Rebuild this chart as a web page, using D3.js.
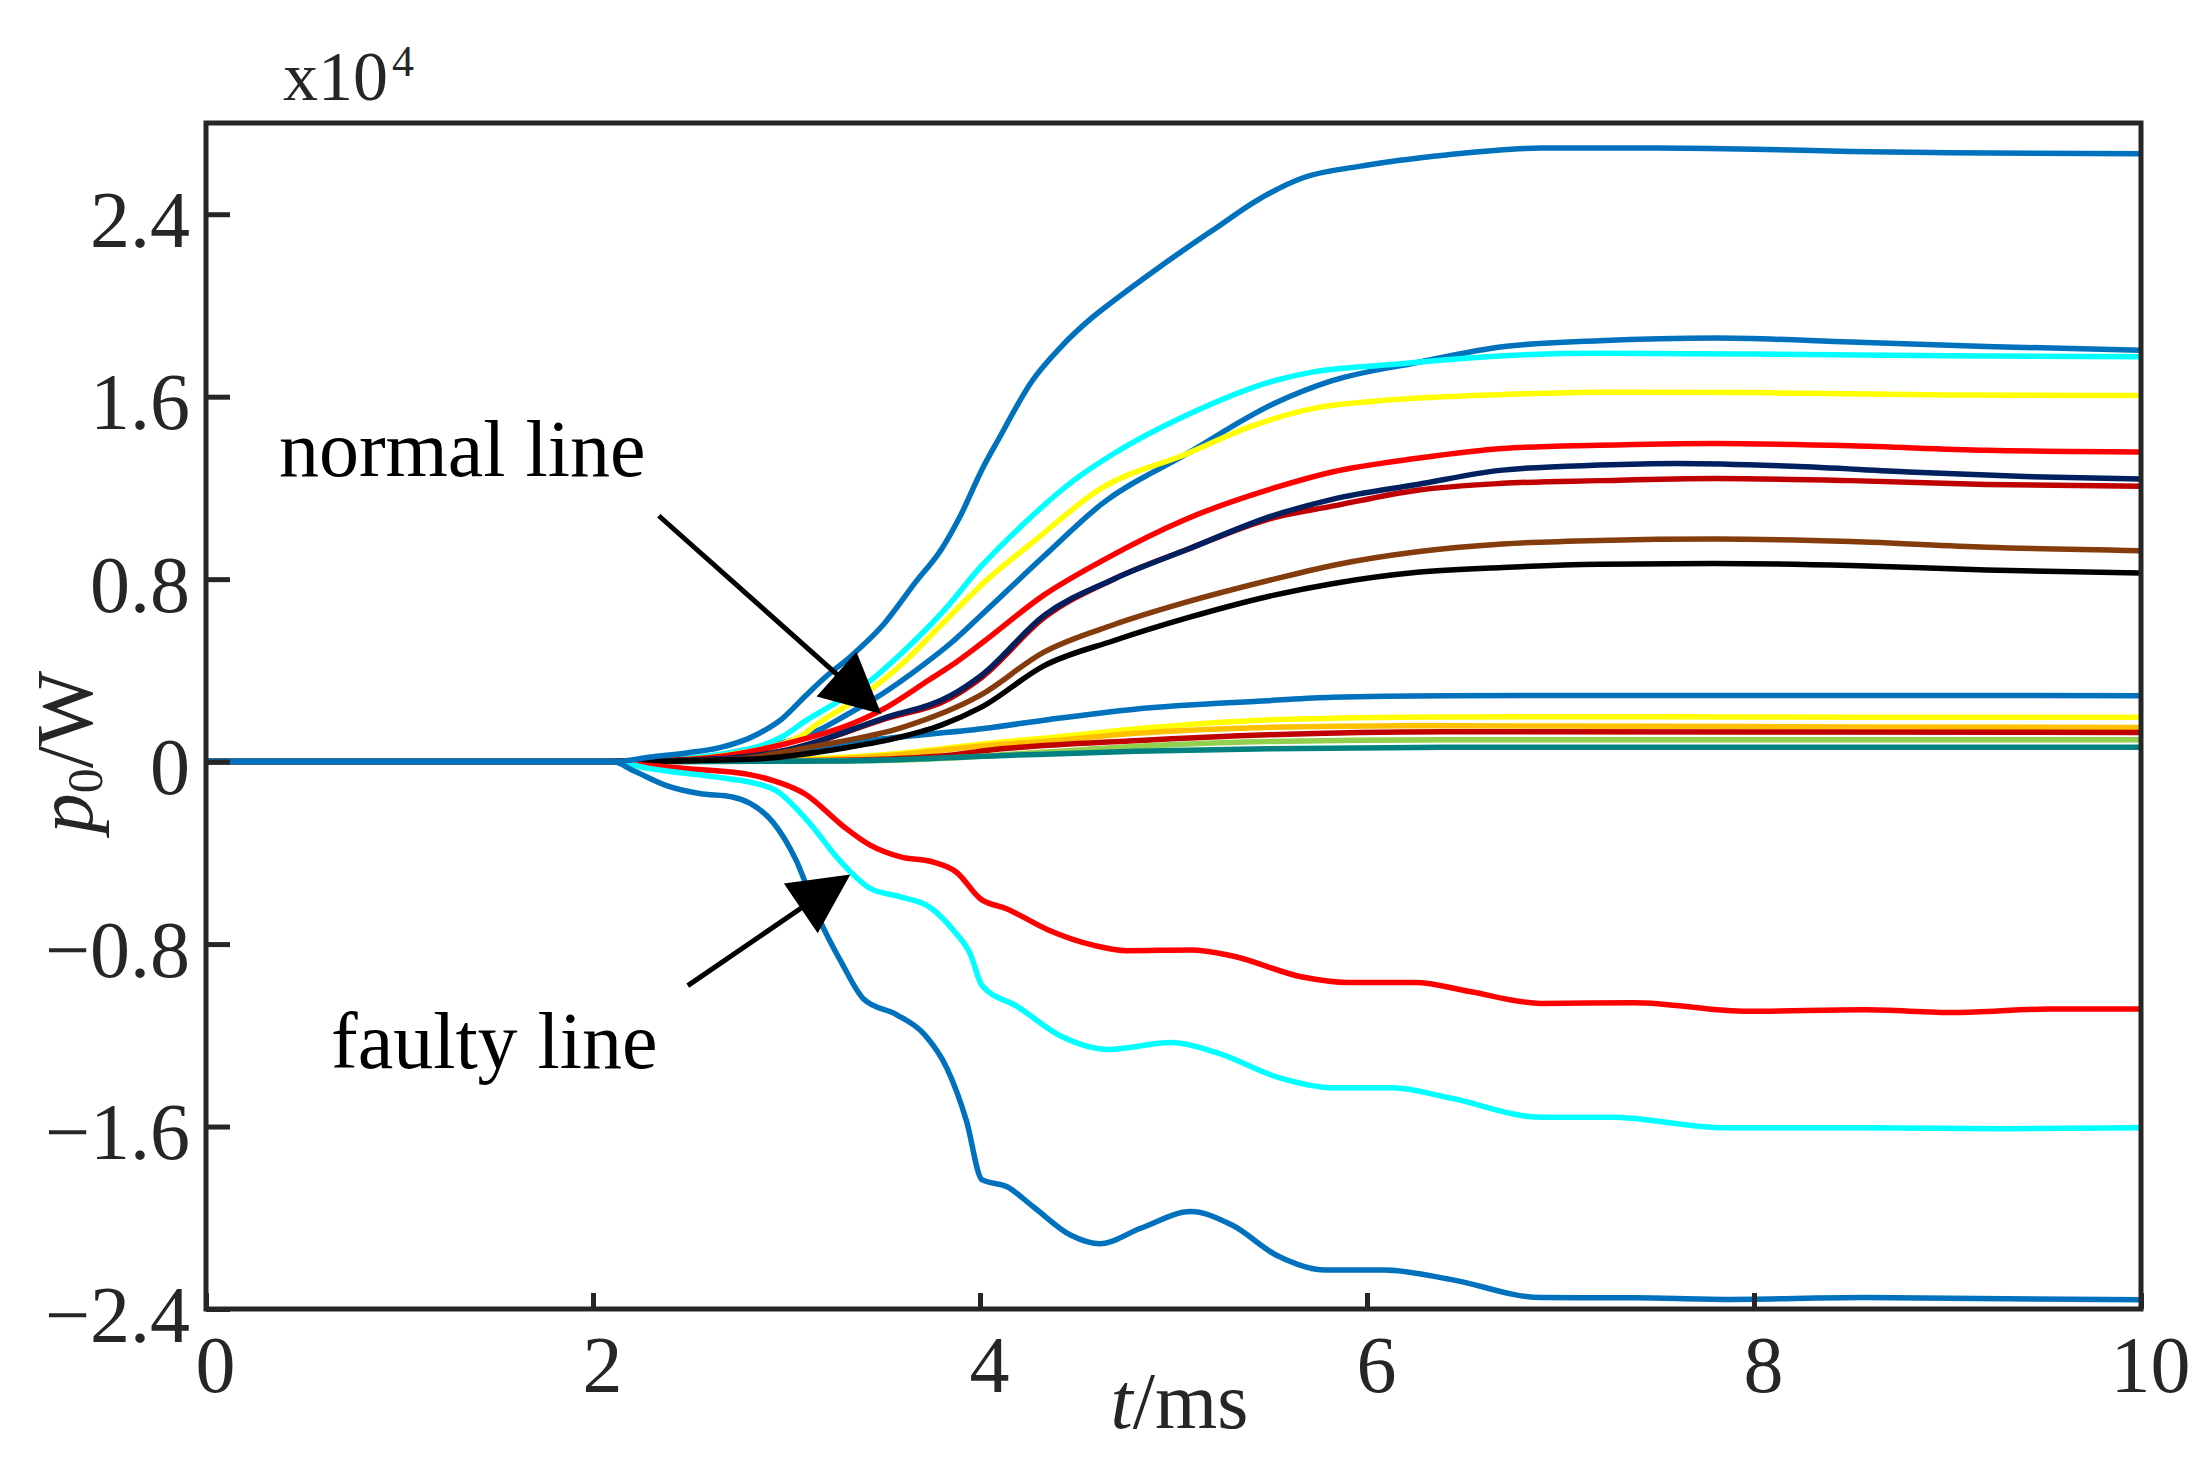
<!DOCTYPE html>
<html>
<head>
<meta charset="utf-8">
<script src="https://cdn.jsdelivr.net/npm/d3@7"></script>
<style>
  body { margin: 0; background: #fff; }
  text { font-family: "Liberation Serif", "Times New Roman", serif; }
</style>
</head>
<body>
<div id="chart"></div>
<script>
// Time axis (ms) and y ticks (x10^4 W)
let xTicks = [0, 2, 4, 6, 8, 10];
let yTicks = [-2.4, -1.6, -0.8, 0, 0.8, 1.6, 2.4];
let yTickLabels = ["\u22122.4", "\u22121.6", "\u22120.8", "0", "0.8", "1.6", "2.4"];

// Series: [t (ms), p0 (x10^4 W)]
let blueLow = [[0,0],[2.1,0],[2.6,0.01],[2.98,0.04],[3.5,0.1],[4.02,0.145],[4.36,0.185],[4.8,0.23],[5.49,0.267],[5.82,0.282],[6.41,0.289],[7,0.29],[8,0.29],[9,0.29],[10,0.289]];
let yellowLow = [[0,0],[2.2,0],[2.8,0.005],[3.5,0.03],[4.1,0.085],[4.36,0.105],[4.8,0.143],[5.49,0.183],[6.41,0.196],[7.5,0.197],[8.5,0.194],[10,0.194]];
let orangeLow = [[0,0],[2.2,0],[3.0,0.005],[3.5,0.025],[4.1,0.075],[4.36,0.09],[4.8,0.124],[5.49,0.15],[6.2,0.157],[7.5,0.155],[8.5,0.152],[10,0.15]];
let darkRedLow = [[0,0],[2.3,0],[3.2,0.005],[3.8,0.025],[4.1,0.055],[4.8,0.092],[5.49,0.118],[6.41,0.131],[8,0.13],[10,0.128]];
let greenLow = [[0,0],[2.5,0],[3.5,0.005],[4.3,0.04],[4.8,0.066],[5.49,0.088],[6.41,0.096],[8,0.096],[10,0.096]];
let tealLow = [[0,0],[2.5,0],[3.3,0.003],[4.1,0.026],[4.8,0.045],[5.49,0.056],[6.41,0.063],[8,0.063],[10,0.063]];

let blueMid = [[0,0],[2.1,0],[2.5,0.01],[2.8,0.05],[3.16,0.135],[3.3,0.2],[3.5,0.3],[3.7,0.42],[3.85,0.52],[4.01,0.645],[4.33,0.9],[4.63,1.13],[5.07,1.35],[5.52,1.57],[5.82,1.67],[6.26,1.75],[6.71,1.82],[7.2,1.845],[7.8,1.857],[8.5,1.84],[9.2,1.82],[10,1.804]];
let cyanUp = [[0,0],[2.1,0],[2.4,0.01],[2.64,0.03],[2.98,0.11],[3.1,0.18],[3.24,0.25],[3.41,0.34],[3.6,0.48],[3.8,0.65],[4.01,0.86],[4.21,1.03],[4.48,1.23],[4.69,1.35],[5.07,1.52],[5.52,1.67],[5.73,1.71],[6.11,1.74],[6.71,1.78],[7.2,1.79],[8,1.787],[9,1.78],[10,1.775]];
let yellowUp = [[0,0],[2.1,0],[2.5,0.01],[2.7,0.03],[3.07,0.11],[3.15,0.16],[3.41,0.3],[3.6,0.43],[3.8,0.6],[4.04,0.8],[4.27,0.96],[4.63,1.2],[5.07,1.35],[5.4,1.47],[5.73,1.55],[6.11,1.585],[6.71,1.61],[7.2,1.62],[8,1.618],[9,1.607],[10,1.605]];
let redUp = [[0,0],[2.1,0],[2.5,0.01],[2.98,0.075],[3.35,0.17],[3.5,0.23],[3.74,0.36],[3.85,0.42],[4.01,0.52],[4.33,0.73],[4.63,0.88],[5.07,1.065],[5.52,1.2],[5.82,1.27],[6.26,1.33],[6.7,1.373],[7.2,1.387],[7.8,1.395],[8.5,1.385],[9.2,1.365],[10,1.358]];
let darkRedUp = [[0,0],[2.1,0],[2.6,0.01],[3.0,0.05],[3.5,0.185],[3.85,0.28],[4.01,0.37],[4.33,0.63],[4.69,0.8],[5.07,0.93],[5.52,1.07],[5.82,1.12],[6.26,1.19],[6.7,1.22],[7.2,1.232],[7.8,1.241],[8.5,1.232],[9.2,1.215],[10,1.207]];
let navyUp = [[0,0],[2.1,0],[2.6,0.01],[3.0,0.05],[3.5,0.19],[3.85,0.29],[4.01,0.38],[4.33,0.64],[4.69,0.8],[5.07,0.93],[5.52,1.08],[5.82,1.15],[6.26,1.215],[6.7,1.278],[7.2,1.3],[7.6,1.307],[8.2,1.295],[8.8,1.27],[9.4,1.25],[10,1.239]];
let brownUp = [[0,0],[2.1,0],[2.7,0.01],[3.16,0.07],[3.6,0.15],[4.0,0.29],[4.33,0.48],[4.69,0.6],[5.07,0.7],[5.52,0.8],[5.82,0.86],[6.26,0.92],[6.7,0.954],[7.2,0.97],[7.8,0.976],[8.5,0.965],[9.2,0.94],[10,0.925]];
let blackUp = [[0,0],[2.1,0],[2.8,0.01],[3.3,0.06],[3.55,0.1],[3.8,0.16],[4.01,0.24],[4.33,0.42],[4.69,0.53],[5.07,0.63],[5.52,0.73],[5.82,0.78],[6.26,0.83],[6.7,0.851],[7.2,0.865],[7.8,0.869],[8.5,0.86],[9.2,0.84],[10,0.827]];
let blueTop = [[0,0],[2.1,0],[2.3,0.02],[2.5,0.04],[2.65,0.06],[2.85,0.12],[2.98,0.19],[3.1,0.29],[3.2,0.37],[3.33,0.46],[3.5,0.6],[3.67,0.79],[3.8,0.93],[3.9,1.08],[4.01,1.28],[4.1,1.42],[4.27,1.67],[4.42,1.82],[4.57,1.94],[4.69,2.02],[4.93,2.17],[5.22,2.34],[5.43,2.46],[5.67,2.56],[5.96,2.61],[6.41,2.66],[6.9,2.69],[7.5,2.69],[8,2.685],[8.5,2.675],[9,2.67],[10,2.665]];

let redNeg = [[0,0],[2.1,0],[2.21,-0.01],[2.47,-0.03],[2.81,-0.057],[2.93,-0.083],[3.1,-0.144],[3.29,-0.281],[3.43,-0.365],[3.59,-0.418],[3.76,-0.441],[3.88,-0.486],[4.0,-0.6],[4.14,-0.646],[4.35,-0.737],[4.59,-0.806],[4.76,-0.829],[5.09,-0.826],[5.3,-0.851],[5.66,-0.943],[5.9,-0.968],[6.25,-0.968],[6.53,-1.008],[6.9,-1.06],[7.38,-1.057],[7.97,-1.095],[8.57,-1.088],[9.04,-1.1],[9.52,-1.085],[10,-1.085]];
let cyanNeg = [[0,0],[2.1,0],[2.29,-0.03],[2.64,-0.068],[2.81,-0.09],[2.95,-0.129],[3.1,-0.251],[3.29,-0.448],[3.43,-0.555],[3.59,-0.593],[3.74,-0.638],[3.86,-0.737],[3.95,-0.844],[4.01,-0.981],[4.19,-1.072],[4.43,-1.209],[4.66,-1.262],[4.99,-1.232],[5.23,-1.278],[5.54,-1.384],[5.83,-1.43],[6.13,-1.43],[6.43,-1.475],[6.9,-1.559],[7.26,-1.559],[7.85,-1.605],[8.57,-1.605],[9.3,-1.61],[10,-1.605]];
let blueNeg = [[0,0],[2.1,0],[2.21,-0.04],[2.38,-0.105],[2.55,-0.14],[2.72,-0.155],[2.81,-0.182],[2.93,-0.266],[3.05,-0.433],[3.17,-0.692],[3.29,-0.89],[3.4,-1.042],[3.57,-1.11],[3.71,-1.194],[3.83,-1.346],[3.93,-1.575],[4.01,-1.833],[4.14,-1.864],[4.28,-1.955],[4.47,-2.077],[4.62,-2.114],[4.83,-2.046],[5.09,-1.973],[5.3,-2.031],[5.54,-2.168],[5.78,-2.229],[6.09,-2.229],[6.43,-2.27],[6.9,-2.35],[7.38,-2.351],[7.85,-2.358],[8.57,-2.35],[10,-2.36]];

// Drawing order and colours
let seriesList = [
  { pts: blueLow, color: "#0072BD" },
  { pts: yellowLow, color: "#FFFF00" },
  { pts: orangeLow, color: "#FFC000" },
  { pts: darkRedLow, color: "#C00000" },
  { pts: greenLow, color: "#92D050" },
  { pts: tealLow, color: "#008080" },
  { pts: blueMid, color: "#0072BD" },
  { pts: cyanUp, color: "#00FFFF" },
  { pts: yellowUp, color: "#FFFF00" },
  { pts: redUp, color: "#FF0000" },
  { pts: darkRedUp, color: "#C00000" },
  { pts: navyUp, color: "#002060" },
  { pts: brownUp, color: "#843C0C" },
  { pts: blackUp, color: "#000000" },
  { pts: redNeg, color: "#FF0000" },
  { pts: cyanNeg, color: "#00FFFF" },
  { pts: blueNeg, color: "#0072BD" },
  { pts: blueTop, color: "#0072BD" }
];

// Annotation arrows in data units: [tail, tip]
let normalArrow = [[2.34, 1.078], [3.49, 0.209]];
let faultyArrow = [[2.49, -0.982], [3.33, -0.495]];

let svgWidth = 2190;
let svgHeight = 1457;
let margin = { top: 123, right: 49, bottom: 148, left: 206 };
let width = svgWidth - margin.left - margin.right;
let height = svgHeight - margin.top - margin.bottom;
let axisColor = "#262626";

let svg = d3.select("#chart")
  .append("svg")
  .attr("width", svgWidth)
  .attr("height", svgHeight);

let chartGroup = svg.append("g")
  .attr("transform", `translate(${margin.left}, ${margin.top})`);

let xScale = d3.scaleLinear().domain([0, 10]).range([0, width]);
let yScale = d3.scaleLinear().domain([-2.4, 2.8]).range([height, 0]);

// Lines
let line = d3.line()
  .x(d => xScale(d[0]))
  .y(d => yScale(d[1]))
  .curve(d3.curveMonotoneX);

chartGroup.append("defs").append("clipPath").attr("id", "plotClip")
  .append("rect").attr("width", width).attr("height", height);

chartGroup.append("g")
  .attr("clip-path", "url(#plotClip)")
  .selectAll("path")
  .data(seriesList)
  .enter()
  .append("path")
  .attr("d", d => line(d.pts))
  .attr("fill", "none")
  .attr("stroke", d => d.color)
  .attr("stroke-width", 5.5)
  .attr("stroke-linejoin", "round");

// Axes (ticks inward)
let leftAxis = d3.axisLeft(yScale)
  .tickValues(yTicks)
  .tickFormat((d, i) => yTickLabels[i])
  .tickSizeInner(-24)
  .tickSizeOuter(0)
  .tickPadding(16);

let bottomAxis = d3.axisBottom(xScale)
  .tickValues(xTicks)
  .tickFormat(d3.format("d"))
  .tickSizeInner(-16)
  .tickSizeOuter(0)
  .tickPadding(26);

let yAxis = chartGroup.append("g").call(leftAxis);
let xAxis = chartGroup.append("g")
  .attr("transform", `translate(0, ${height})`)
  .call(bottomAxis);

[xAxis, yAxis].forEach(ax => {
  ax.select(".domain").remove();
  ax.selectAll(".tick line").attr("stroke", axisColor).attr("stroke-width", 5);
  ax.selectAll(".tick text")
    .attr("fill", axisColor)
    .style("font-family", "'Liberation Serif', serif")
    .style("font-size", "80px");
});
yAxis.selectAll(".tick text").attr("dy", "0.4em");
xAxis.selectAll(".tick text").attr("dx", 9);

// Box
chartGroup.append("rect")
  .attr("width", width)
  .attr("height", height)
  .attr("fill", "none")
  .attr("stroke", axisColor)
  .attr("stroke-width", 5);

// Exponent label
svg.append("text")
  .attr("x", 283)
  .attr("y", 100)
  .attr("fill", axisColor)
  .style("font-size", "70px")
  .text("x10");
svg.append("text")
  .attr("x", 392)
  .attr("y", 76)
  .attr("fill", axisColor)
  .style("font-size", "44px")
  .text("4");

// Axis titles
let xTitle = svg.append("text")
  .attr("x", margin.left + width / 2 + 6)
  .attr("y", 1428)
  .attr("text-anchor", "middle")
  .attr("fill", axisColor)
  .style("font-size", "80px");
xTitle.append("tspan").style("font-style", "italic").text("t");
xTitle.append("tspan").text("/ms");

let yTitle = svg.append("text")
  .attr("transform", "translate(92, 752) rotate(-90)")
  .attr("text-anchor", "middle")
  .attr("fill", axisColor)
  .style("font-size", "80px");
yTitle.append("tspan").style("font-style", "italic").text("p");
yTitle.append("tspan").attr("dy", 10).style("font-size", "50px").text("0");
yTitle.append("tspan").attr("dy", -10).text("/W");

// Annotations
chartGroup.append("text")
  .attr("x", xScale(0.377))
  .attr("y", yScale(1.254))
  .attr("fill", "#000")
  .style("font-size", "80px")
  .text("normal line");

chartGroup.append("text")
  .attr("x", xScale(0.646))
  .attr("y", yScale(-1.343))
  .attr("fill", "#000")
  .style("font-size", "80px")
  .text("faulty line");

function drawArrow(arrow) {
  let x0 = xScale(arrow[0][0]), y0 = yScale(arrow[0][1]);
  let x1 = xScale(arrow[1][0]), y1 = yScale(arrow[1][1]);
  let dx = x1 - x0, dy = y1 - y0;
  let len = Math.sqrt(dx * dx + dy * dy);
  let ux = dx / len, uy = dy / len;
  let headLen = 60, headHalf = 30;
  let bx = x1 - ux * headLen, by = y1 - uy * headLen;
  chartGroup.append("line")
    .attr("x1", x0).attr("y1", y0)
    .attr("x2", bx + ux * 5).attr("y2", by + uy * 5)
    .attr("stroke", "#000")
    .attr("stroke-width", 5);
  chartGroup.append("polygon")
    .attr("points", [
      [x1, y1],
      [bx - uy * headHalf, by + ux * headHalf],
      [bx + uy * headHalf, by - ux * headHalf]
    ].map(p => p.join(",")).join(" "))
    .attr("fill", "#000");
}
drawArrow(normalArrow);
drawArrow(faultyArrow);
</script>
</body>
</html>
